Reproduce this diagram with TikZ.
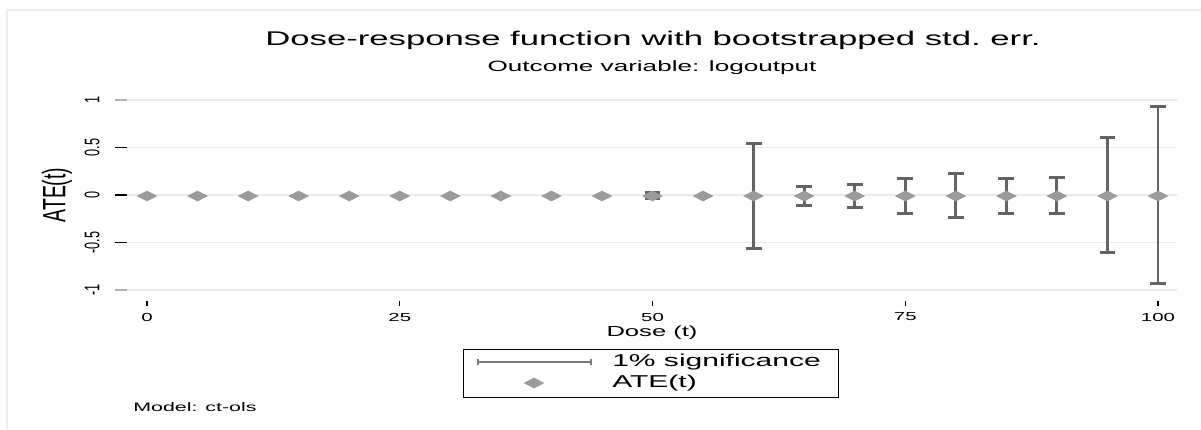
\documentclass[tikz,border=0pt]{standalone}
\usepackage{graphicx}
\usepackage{fontspec}
\setmainfont{Liberation Sans}
\newfontfamily\widefont[FakeStretch=1.75]{Liberation Sans}
\usetikzlibrary{shapes.geometric}
\usetikzlibrary{arrows.meta}

\definecolor{gridgray}{HTML}{EAEAEA}
\definecolor{framegray}{HTML}{EEEEEE}
\definecolor{bargray}{HTML}{646464}
\definecolor{markgray}{HTML}{9B9B9B}
\definecolor{keygray}{HTML}{7A7A7A}

\newcommand{\upright}[2]{\scalebox{#1}[1]{#2}}

\begin{document}
\begin{tikzpicture}[x={(0.025cm,0)},y={(0,-0.025cm)},
  grid line/.style={gridgray,line width=1.1pt},
  ci bar/.style={bargray,line width=2.1pt,{Bar[width=11.3pt,line width=2.1pt]}-{Bar[width=11.3pt,line width=2.1pt]}},
  ate mark/.style={diamond,fill=markgray,inner sep=0pt,minimum width=15pt,minimum height=7.8pt},
  tick lab/.style={inner sep=0pt,font=\widefont\fontsize{8.3}{9}\selectfont},
  ytick lab/.style={inner sep=0pt,rotate=90,font=\fontsize{15}{16}\selectfont}]
\useasboundingbox (0,0) rectangle (1201,429);

% outer frame
\draw[framegray,line width=1.1pt] (1201,10) -- (7,10) -- (7,429);

% titles
\node[inner sep=0pt,font=\widefont\fontsize{14.1}{16}\selectfont] (title) at (653,40) {Dose-response function with bootstrapped std.\ err.};
\node[inner sep=0pt,font=\widefont\fontsize{10.6}{12}\selectfont] (subtitle) at (652,68) {Outcome variable: logoutput};

% y axis with grid
\foreach \v/\c in {1/gray!60,0.5/black,0/black,-0.5/black,-1/gray!60} {
  \draw[grid line] (127,{195-95*(\v)}) -- (1177,{195-95*(\v)});
  \draw[\c,line width=0.8pt] (115,{195-95*(\v)}) -- (127,{195-95*(\v)});
  \node[ytick lab] (ylab\v) at (92,{195-95*(\v)}) {\upright{0.6}{\v}};
}
\node[inner sep=0pt,rotate=90,font=\fontsize{23}{25}\selectfont] (ytitle) at (57,195) {\upright{0.6}{ATE(t)}};

% x axis
\foreach \t in {0,25,50,75,100} {
  \draw[black,line width=0.8pt] ({147+10.11*\t},301) -- ({147+10.11*\t},306);
  \node[tick lab] (xlab\t) at ({147+10.11*\t},317) {\t};
}
\node[inner sep=0pt,font=\widefont\fontsize{10.4}{12}\selectfont] (xtitle) at (652,333) {Dose (t)};

% confidence bars
\foreach \t/\lo/\hi in {50/-0.053/0.045,60/-0.575/0.56,65/-0.13/0.11,70/-0.15/0.13,
  75/-0.21/0.19,80/-0.25/0.24,85/-0.21/0.19,90/-0.21/0.20,95/-0.62/0.62,100/-0.95/0.95}
  \draw[ci bar] ({147+10.11*\t},{195-95*(\lo)}) -- ({147+10.11*\t},{195-95*(\hi)});

% point estimates
\foreach \t in {0,5,...,100}
  \node[ate mark] (ate\t) at ({147+10.11*\t},196) {};

% legend
\draw[black,line width=0.7pt] (463,349) rectangle (838,397);
\coordinate (keyl) at (477,362);
\coordinate (keyr) at (592,362);
\draw[keygray,line width=1.3pt,{Bar[width=4.5pt,line width=1.3pt]}-{Bar[width=4.5pt,line width=1.3pt]}] (keyl) -- (keyr);
\node[ate mark] (keymark) at (534,383) {};
\node[anchor=west,inner sep=0pt,font=\widefont\fontsize{12.2}{14}\selectfont] (keysig) at (612,362) {1\% significance};
\node[anchor=west,inner sep=0pt,font=\widefont\fontsize{12.2}{14}\selectfont] (keyate) at (612,383) {ATE(t)};

\node[anchor=west,inner sep=0pt,font=\widefont\fontsize{8.7}{10}\selectfont] (model) at (133,407) {Model: ct-ols};

\end{tikzpicture}
\end{document}
